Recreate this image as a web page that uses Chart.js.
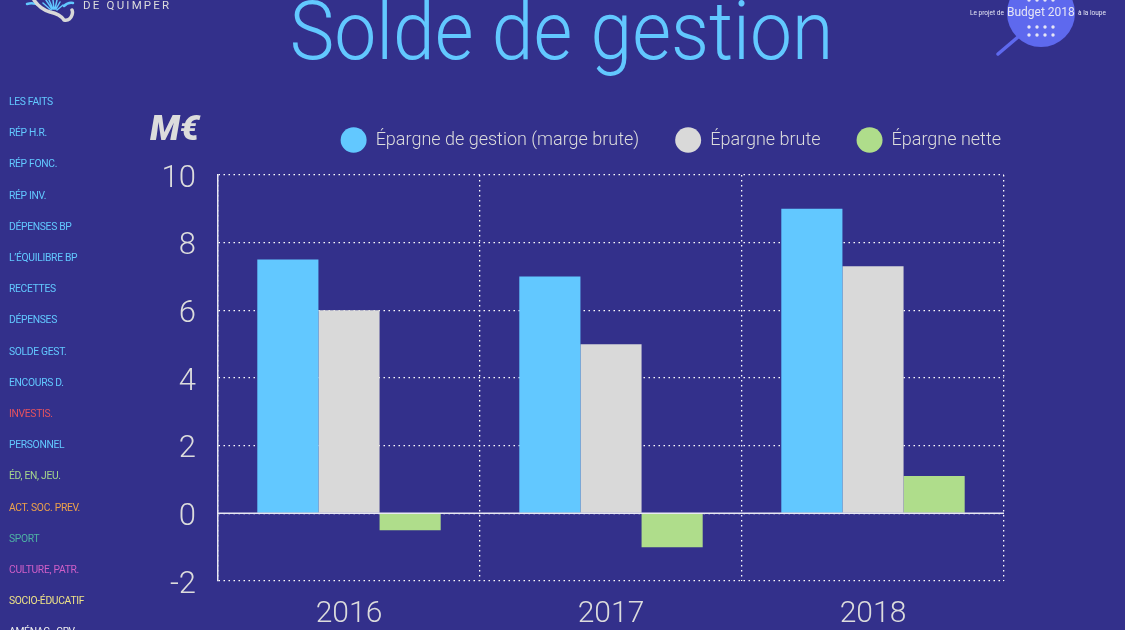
<!DOCTYPE html>
<html lang="fr"><head><meta charset="utf-8">
<script src="https://cdn.jsdelivr.net/npm/chart.js@4"></script>
<style>
html,body{margin:0;padding:0;width:1125px;height:630px;overflow:hidden;background:#33308b;font-family:Roboto,sans-serif}
#wrap{position:relative;width:1125px;height:630px;overflow:hidden}
canvas{position:absolute;left:0;top:0}
.t{position:absolute;white-space:nowrap}
#title{left:0;width:1123px;top:-13px;text-align:center;font-size:75px;font-weight:300;color:#62c8ff;line-height:88px;font-variant-ligatures:none;transform:scaleY(1.08)}
#unit{left:150px;top:109px;font-size:35px;font-weight:900;font-style:italic;color:#dcdcdc;line-height:40px}
.nav{left:9px;font-size:10.3px;letter-spacing:-.3px;line-height:14px}
#quimper{left:83px;top:-2px;font-size:11.5px;letter-spacing:2.2px;color:#dcdcdc;line-height:14px}
svg{position:absolute;left:0;top:0}
</style></head><body>
<div id="wrap">
<canvas id="c" width="1125" height="630"></canvas>
<svg width="1125" height="630">
  <g fill="none" stroke-linecap="round">
    <path d="M27 4 Q34 2 40 6" stroke="#62c8ff" stroke-width="2.5"/>
    <path d="M64 6 Q68 2 73 3" stroke="#62c8ff" stroke-width="2.5"/>
    <path d="M46 0 L52 9 M49 0 L53 9 M53 0 L54 9 M57 0 L55 9 M60 2 L56 9 M43 3 L51 10 M63 5 L57 10" stroke="#62c8ff" stroke-width="1.5"/>
    <path d="M34 0 Q40 9 50 12 Q60 14 64 20 Q70 21 72 15 Q73 12 72 10" stroke="#d8d8d8" stroke-width="3.5"/>
  </g>
  <circle cx="1041" cy="13" r="34" fill="#5e69ee"/>
  <path d="M1018 37 L998 54" stroke="#5e69ee" stroke-width="3.5" stroke-linecap="round"/>
  <g fill="#e6e6f5" id="dots"></g>
</svg>
<div class="t" id="title">Solde de gestion</div>
<div class="t" id="unit">M€</div>
<div class="t" id="quimper">DE QUIMPER</div>
<div class="t" style="left:970px;top:7px;font-size:6.5px;line-height:12px;color:#e6e6f5">Le projet de</div>
<div class="t" style="left:1007px;top:3px;font-size:12px;line-height:18px;color:#e6e6f5">Budget 2018</div>
<div class="t" style="left:1078px;top:7px;font-size:6.5px;line-height:12px;color:#e6e6f5">à la loupe</div>
</div>
<script>
const categories = ['2016', '2017', '2018'];
const epargneGestion = [7.5, 7, 9];
const epargneBrute = [6, 5, 7.3];
const epargneNette = [-0.5, -1, 1.1];
const seriesNames = ['Épargne de gestion (marge brute)', 'Épargne brute', 'Épargne nette'];
const seriesColors = ['#62c8ff', '#d9d9d9', '#afdd8b'];
const navLabels = ['LES FAITS','RÉP H.R.','RÉP FONC.','RÉP INV.','DÉPENSES BP','L’ÉQUILIBRE BP','RECETTES','DÉPENSES','SOLDE GEST.','ENCOURS D.','INVESTIS.','PERSONNEL','ÉD, EN, JEU.','ACT. SOC. PREV.','SPORT','CULTURE, PATR.','SOCIO-ÉDUCATIF','AMÉNAG., CRV'];
const navColors = ['#62c8ff','#62c8ff','#62c8ff','#62c8ff','#62c8ff','#62c8ff','#62c8ff','#62c8ff','#62c8ff','#62c8ff','#e5525f','#62c8ff','#a5d68c','#eea24a','#4eb2a5','#d05fc8','#eee287','#f0f0f0'];

const wrap = document.getElementById('wrap');
navLabels.forEach((s, i) => {
  const d = document.createElement('div');
  d.className = 't nav';
  d.textContent = s;
  d.style.color = navColors[i];
  d.style.top = (95 + i * 31.2) + 'px';
  wrap.appendChild(d);
});
const dots = document.getElementById('dots');
[0, 27, 35].forEach(y => [1029, 1037, 1045, 1053].forEach(x => {
  const c = document.createElementNS('http://www.w3.org/2000/svg', 'circle');
  c.setAttribute('cx', x); c.setAttribute('cy', y); c.setAttribute('r', 1.7);
  dots.appendChild(c);
}));

const legendPadding = 36;
const placeLegend = {
  id: 'placeLegend',
  beforeDraw(chart) {
    const l = chart.legend, a = chart.chartArea;
    l.top = 95;
    l.bottom = a.top;
    l.right = a.right + legendPadding - 3;
  }
};
const zeroLine = {
  id: 'zeroLine',
  afterDatasetsDraw(chart) {
    const { ctx, chartArea: a, scales: { y } } = chart;
    const py = y.getPixelForValue(0);
    ctx.save();
    ctx.strokeStyle = '#e8e8f4';
    ctx.lineWidth = 1.5;
    ctx.beginPath(); ctx.moveTo(a.left, py); ctx.lineTo(a.right, py); ctx.stroke();
    ctx.restore();
  }
};
Chart.defaults.font.family = 'Roboto, sans-serif';
const chart = new Chart(document.getElementById('c'), {
  type: 'bar',
  data: {
    labels: categories,
    datasets: [epargneGestion, epargneBrute, epargneNette].map((data, i) => ({
      label: seriesNames[i], data, backgroundColor: seriesColors[i], borderWidth: 0,
      barPercentage: 1, categoryPercentage: 0.7
    }))
  },
  plugins: [placeLegend, zeroLine],
  options: {
    responsive: false, animation: false,
    layout: { padding: { top: 107, right: 121, bottom: 0, left: 0 } },
    plugins: {
      title: { display: false },
      tooltip: { enabled: false },
      legend: {
        position: 'top', align: 'end',
        labels: {
          usePointStyle: true, pointStyle: 'circle', pointStyleWidth: 26, boxHeight: 18.4,
          padding: legendPadding, color: '#dcdcdc',
          font: { size: 18, weight: '300' }
        }
      }
    },
    scales: {
      x: {
        offset: true,
        afterFit(s) { s.height = 49; },
        grid: { color: '#ffffff', lineWidth: 1.3, drawTicks: false, offset: true },
        border: { display: false, dash: [1.5, 3.5] },
        ticks: { color: '#dcdcdc', padding: 15, font: { size: 30, weight: '300' } }
      },
      y: {
        min: -2, max: 10,
        afterFit(s) { s.width = 218; },
        grid: { color: '#ffffff', lineWidth: 1.3, drawTicks: false },
        border: { display: true, color: '#e8e8f4', width: 1.5, dash: [1.5, 3.5] },
        ticks: { stepSize: 2, color: '#dcdcdc', padding: 22, labelOffset: 4, font: { size: 31, weight: '300' } }
      }
    }
  }
});
chart.options.layout.padding.top = 175 - chart.legend.height;
chart.update();
</script>
</body></html>
